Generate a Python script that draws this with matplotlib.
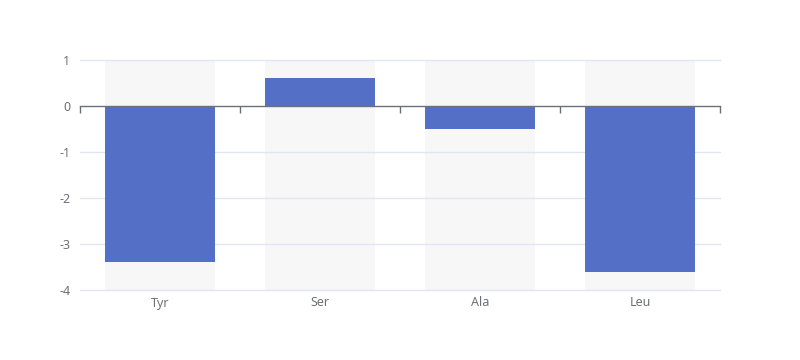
import matplotlib
matplotlib.use("Agg")
import matplotlib.pyplot as plt
import matplotlib.transforms as mtransforms

categories = ["Tyr", "Ser", "Ala", "Leu"]
values = [-3.4, 0.6, -0.5, -3.6]
y_ticks = [1, 0, -1, -2, -3, -4]

plt.rcParams['font.family'] = ['Noto Sans', 'DejaVu Sans']

fig = plt.figure(figsize=(8, 3.6), dpi=100)
ax = fig.add_axes([0.1, 1 - 290 / 360, 0.8, 230 / 360])

ymin, ymax = min(y_ticks), max(y_ticks)
x = list(range(len(categories)))
bw = 0.6875

# background bands
ax.bar(x, [ymax - ymin] * len(x), bottom=ymin, width=bw, color="#F7F7F7", zorder=0.2)
# bars
ax.bar(x, values, width=bw, color="#5470C6", zorder=3)

ax.set_xlim(-0.5, len(categories) - 0.5)
ax.set_ylim(ymin, ymax)

# grid
for t in y_ticks:
    if t != 0:
        ax.axhline(t, color="#E0E6F1", lw=1, zorder=1, clip_on=False)

for s in ["top", "right", "left"]:
    ax.spines[s].set_visible(False)
ax.spines["bottom"].set_position(("data", 0))
ax.spines["bottom"].set_color("#6E7079")
ax.spines["bottom"].set_linewidth(1)
ax.spines["bottom"].set_zorder(4)

ax.set_xticks([i - 0.5 for i in range(len(categories) + 1)])
ax.tick_params(axis="x", length=5, width=1, color="#6E7079", direction="out", labelbottom=False)

ax.set_yticks(y_ticks)
ax.set_yticklabels([str(t) for t in y_ticks])
ax.tick_params(axis="y", length=0, pad=7, labelcolor="#6E7079", labelsize=9)

trans = mtransforms.blended_transform_factory(ax.transData, ax.transAxes)
for i, c in enumerate(categories):
    ax.text(i, -13 / 230, c, transform=trans, ha="center", va="center",
            color="#6E7079", fontsize=9)

fig.savefig("out.png", dpi=100)
